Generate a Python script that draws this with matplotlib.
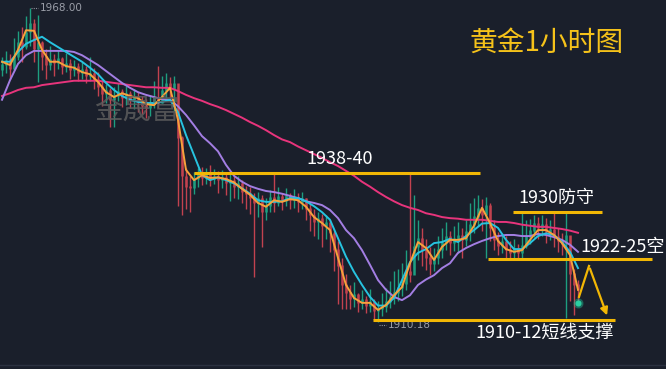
import numpy as np
import matplotlib
matplotlib.use("Agg")
import matplotlib.pyplot as plt
from matplotlib.collections import LineCollection

plt.rcParams['font.family'] = ['Noto Sans CJK SC', 'DejaVu Sans']

# ---- candle data (close / high / low), open = previous close ----
first_open = 1956.5
close = [1957.5,1958.2,1956.8,1959.0,1961.5,1960.8,1963.5,1965.0,1960.5,1961.5,
         1959.0,1957.5,1958.5,1957.8,1958.6,1957.2,1957.8,1956.5,1957.2,1956.0,
         1956.6,1955.4,1955.9,1954.8,1953.5,1952.2,1952.8,1951.0,1951.8,1952.6,
         1951.5,1952.2,1951.0,1951.6,1950.6,1950.0,1949.6,1950.4,1951.5,1950.5,
         1952.8,1954.0,1953.0,1954.0,1944.0,1937.0,1935.0,1934.8,1936.5,1937.2,
         1936.6,1937.4,1936.5,1937.0,1936.3,1936.8,1935.8,1936.2,1935.0,1935.6,
         1934.2,1933.8,1933.0,1932.0,1932.8,1930.5,1931.5,1933.0,1932.0,1933.2,
         1932.4,1933.4,1932.6,1933.0,1932.2,1932.8,1931.0,1929.8,1928.6,1929.2,
         1927.8,1928.4,1926.5,1923.5,1920.5,1917.0,1915.5,1914.5,1915.2,1913.6,
         1914.2,1913.2,1913.8,1912.2,1912.6,1913.0,1913.8,1914.6,1915.5,1916.4,
         1917.2,1919.5,1918.8,1924.0,1925.5,1923.5,1922.0,1920.8,1922.0,1923.5,
         1924.8,1925.8,1924.8,1925.5,1926.0,1925.2,1926.8,1928.0,1929.5,1931.0,
         1929.8,1931.6,1927.5,1925.2,1924.2,1925.0,1923.5,1922.8,1923.6,1922.8,
         1924.2,1925.8,1927.0,1928.2,1927.4,1928.0,1926.8,1927.2,1925.8,1925.0,
         1924.5,1926.0,1919.0,1917.0,1916.0]
high = [1959.0,1960.0,1959.5,1962.5,1963.8,1964.5,1966.5,1968.0,1966.0,1966.7,
        1962.0,1960.5,1961.0,1959.5,1960.2,1959.0,1959.8,1958.6,1958.4,1957.8,
        1958.0,1957.4,1959.0,1957.0,1956.2,1954.8,1954.0,1953.2,1953.5,1954.2,
        1953.0,1953.6,1952.8,1953.0,1952.6,1951.8,1951.2,1952.0,1954.5,1957.3,
        1955.5,1956.0,1955.2,1955.5,1953.2,1944.5,1938.5,1937.0,1937.8,1938.5,
        1938.8,1938.6,1939.0,1938.4,1938.0,1938.2,1937.6,1937.5,1937.0,1937.0,
        1936.4,1935.2,1935.0,1934.0,1934.2,1933.5,1933.0,1934.5,1937.8,1935.0,
        1934.0,1934.8,1934.0,1934.6,1934.0,1934.2,1933.0,1932.0,1931.0,1930.5,
        1930.0,1929.8,1929.0,1927.0,1925.0,1922.0,1919.0,1917.0,1917.5,1915.5,
        1916.0,1915.0,1916.2,1914.5,1914.0,1915.5,1916.5,1917.8,1919.5,1920.0,
        1921.0,1923.5,1937.8,1933.5,1929.0,1927.5,1925.5,1924.0,1923.8,1926.0,
        1927.5,1928.5,1927.0,1927.8,1928.6,1927.5,1929.0,1932.0,1933.0,1933.5,
        1932.8,1933.2,1932.0,1929.0,1926.8,1926.5,1926.0,1925.0,1925.5,1924.6,
        1930.5,1929.0,1929.2,1929.8,1929.6,1929.8,1929.4,1929.0,1930.5,1927.5,
        1926.5,1930.4,1926.0,1920.0,1918.0]
low = [1955.5,1956.0,1955.0,1956.5,1958.5,1958.0,1960.5,1961.0,1958.0,1954.4,
       1956.5,1955.0,1956.5,1955.5,1956.8,1955.8,1956.2,1955.0,1955.5,1954.6,
       1955.0,1954.2,1954.5,1953.0,1951.8,1950.0,1950.5,1946.0,1946.0,1950.8,
       1949.8,1950.2,1949.6,1949.4,1948.8,1948.5,1947.8,1948.2,1949.5,1949.5,
       1950.5,1951.5,1951.0,1949.0,1931.5,1929.8,1931.0,1930.5,1933.8,1935.0,
       1935.4,1935.5,1935.2,1935.5,1934.0,1934.8,1933.5,1932.5,1933.0,1932.8,
       1932.0,1931.0,1930.0,1918.5,1929.5,1924.0,1929.0,1930.5,1930.5,1931.5,
       1930.8,1931.5,1931.0,1931.2,1930.5,1931.0,1929.0,1927.0,1926.0,1925.5,
       1924.0,1925.5,1923.0,1919.5,1913.5,1912.5,1912.6,1912.5,1913.0,1912.0,
       1912.5,1911.8,1912.0,1910.5,1910.18,1911.2,1912.0,1912.8,1913.5,1914.0,
       1915.0,1916.0,1917.5,1920.0,1921.5,1920.5,1919.8,1918.8,1919.5,1920.8,
       1922.0,1923.5,1922.5,1923.2,1922.8,1922.0,1924.2,1925.0,1926.5,1927.8,
       1927.0,1922.0,1925.0,1923.5,1922.5,1922.8,1922.0,1921.8,1921.5,1921.8,
       1922.0,1923.8,1924.5,1925.8,1925.5,1926.0,1924.8,1925.2,1924.0,1923.0,
       1922.5,1911.0,1914.0,1911.4,1914.0]

# ---- moving averages, sampled every 2 candles ----
ma_fast = [1958.1,1957.5,1960.3,1963.9,1963.8,1960.3,1958.1,1958.1,1957.3,1957.0,
           1956.2,1955.8,1954.4,1952.5,1951.6,1952.3,1951.8,1951.4,1950.3,1950.1,
           1951.6,1953.3,1947.4,1938.2,1936.3,1937.2,1936.7,1936.8,1936.5,1935.9,
           1934.7,1933.6,1932.1,1931.4,1932.6,1932.3,1932.8,1932.6,1931.4,1929.5,
           1928.4,1927.1,1922.0,1917.0,1914.6,1913.7,1913.7,1912.4,1913.3,1915.1,
           1916.6,1921.0,1924.9,1923.8,1921.6,1924.0,1925.3,1925.3,1925.6,1927.9,
           1931.2,1928.4,1925.1,1923.6,1923.1,1923.4,1925.3,1927.1,1927.1,1926.2,
           1924.7,1922.5,1916.1]
ma_mid = [1958.1,1958.1,1959.9,1961.4,1962.1,1962.7,1961.7,1960.8,1959.9,1959.0,
          1958.1,1957.0,1955.8,1954.2,1952.9,1951.8,1951.1,1950.7,1950.5,1950.5,
          1950.7,1951.1,1948.8,1944.6,1940.9,1937.2,1936.3,1936.8,1936.3,1935.7,
          1934.8,1933.8,1932.6,1932.3,1932.3,1932.4,1933.0,1933.0,1932.4,1931.5,
          1930.4,1929.0,1925.6,1922.2,1919.4,1917.0,1914.8,1913.2,1913.2,1914.6,
          1917.9,1921.2,1922.9,1923.6,1924.7,1924.9,1925.5,1924.9,1926.0,1927.1,
          1928.3,1928.4,1927.5,1925.3,1923.6,1923.6,1924.7,1926.0,1926.5,1926.2,
          1924.9,1923.1,1920.1]
ma_slow = [1951.1,1954.7,1957.7,1959.3,1960.1,1960.1,1960.1,1960.1,1960.1,1959.9,
           1959.3,1958.4,1957.5,1956.4,1955.3,1954.2,1953.3,1952.5,1952.0,1951.6,
           1951.2,1951.1,1949.9,1948.3,1946.4,1944.4,1943.1,1941.6,1939.1,1937.1,
           1936.0,1935.2,1934.7,1934.3,1934.1,1933.8,1933.4,1933.0,1932.4,1932.1,
           1931.7,1930.8,1929.3,1927.1,1925.6,1923.4,1920.7,1917.9,1916.1,1914.8,
           1914.2,1915.1,1917.0,1918.0,1918.8,1920.1,1921.0,1922.9,1923.8,1924.5,
           1925.1,1925.6,1926.0,1926.2,1926.2,1926.0,1926.0,1926.4,1926.2,1925.8,
           1925.3,1924.4,1923.1]
ma_long = [1951.8,1952.3,1952.9,1953.3,1953.4,1953.8,1954.0,1954.2,1954.4,1954.6,
           1954.6,1954.6,1954.6,1954.4,1954.2,1954.0,1953.8,1953.6,1953.4,1953.4,
           1953.3,1953.3,1952.7,1952.0,1951.4,1950.9,1950.3,1949.8,1949.2,1948.5,
           1947.8,1947.0,1946.3,1945.5,1944.6,1943.8,1943.3,1942.5,1941.8,1941.1,
           1940.4,1939.6,1938.9,1938.0,1937.1,1936.0,1935.1,1934.1,1933.2,1932.4,
           1931.7,1931.2,1930.8,1930.2,1929.9,1929.5,1929.3,1929.2,1929.0,1929.0,
           1929.0,1928.8,1928.6,1928.6,1928.4,1928.1,1927.9,1927.7,1927.7,1927.5,
           1927.3,1927.0,1926.6]

# ---- annotation levels ----
level_labels = ["1938-40", "1930防守", "1922-25空", "1910-12短线支撑"]
level_prices = [1937.6, 1930.4, 1921.8, 1910.6]
level_spans = [(48.0, 119.5), (127.8, 150.0), (121.5, 162.5), (92.7, 153.2)]
proj_x = [144.25, 146.75, 151.5]
proj_y = [1914.8, 1920.5, 1910.9]
hi_mark, lo_mark = 1968.00, 1910.18

BG = '#1a1f2b'
UP = '#1e9e80'
DN = '#c2424f'
GOLD = '#f2b705'

fig = plt.figure(figsize=(6.66, 3.69), dpi=100, facecolor=BG)
ax = fig.add_axes([0, 0, 1, 1])
ax.set_facecolor(BG)
ax.set_xlim(-0.5, 166.0)
ax.set_ylim(1901.52, 1969.47)
ax.axis('off')

n = len(close)
idx = np.arange(n)
opens = np.concatenate([[first_open], np.array(close[:-1])])
cl = np.array(close)
colors = [UP if c >= o else DN for o, c in zip(opens, cl)]

wicks = [[(i, low[i]), (i, high[i])] for i in range(n)]
bodies = [[(i, min(opens[i], cl[i])), (i, max(opens[i], cl[i]) + 0.15)] for i in range(n)]
ax.add_collection(LineCollection(wicks, colors=colors, linewidths=1.0, zorder=2))
ax.add_collection(LineCollection(bodies, colors=colors, linewidths=1.8, zorder=2))

ma_idx = np.arange(0, n, 2)
ax.plot(ma_idx, ma_long, color='#e8347c', lw=1.4, zorder=3)
ax.plot(ma_idx, ma_slow, color='#a37ee3', lw=1.4, zorder=3)
ax.plot(ma_idx, ma_mid, color='#27c3e0', lw=1.4, zorder=4)
ax.plot(ma_idx, ma_fast, color='#f7a23c', lw=1.4, zorder=5)

# bottom separator
ax.plot([0, 1], [0.012, 0.012], transform=ax.transAxes, color='#2b3140', lw=1.0)

# level lines
for (x0, x1), p in zip(level_spans, level_prices):
    ax.plot([x0, x1], [p, p], color=GOLD, lw=2.2, zorder=6, solid_capstyle='butt')

txt = dict(color='white', fontsize=13, zorder=8)
ax.text(84.5, level_prices[0] + 1.0, level_labels[0], ha='center', va='bottom', **txt)
ax.text(129.0, level_prices[1] + 1.0, level_labels[1], ha='left', va='bottom', **txt)
ax.text(144.5, level_prices[2] + 0.6, level_labels[2], ha='left', va='bottom', **txt)
ax.text(153.0, level_prices[3] - 0.8, level_labels[3], ha='right', va='top', **txt)

# projection arrow
ax.plot(proj_x[:2], proj_y[:2], color=GOLD, lw=1.6, zorder=7)
ax.annotate('', xy=(proj_x[2], proj_y[2]), xytext=(proj_x[1], proj_y[1]),
            arrowprops=dict(arrowstyle='-|>', color=GOLD, lw=1.6, mutation_scale=11),
            zorder=7)
ax.scatter([proj_x[0] - 0.3], [proj_y[0] - 1.2], s=40, color='#1fb58f', alpha=0.35, zorder=7)
ax.scatter([proj_x[0] - 0.3], [proj_y[0] - 1.2], s=12, color='#2ad1a2', zorder=7)

# high/low markers
hi_i = int(np.argmax(high))
lo_i = int(np.argmin(low))
ax.plot([hi_i + 0.3, hi_i + 2.0], [hi_mark, hi_mark], color='#8a8f99', lw=0.8, ls=(0, (1, 1)))
ax.text(hi_i + 2.4, hi_mark, f"{hi_mark:.2f}", color='#9a9ea8', fontsize=7.5, va='center', ha='left',
        family=['Liberation Sans Narrow', 'DejaVu Sans'])
ax.plot([lo_i + 0.3, lo_i + 2.0], [lo_mark - 0.5, lo_mark - 0.5], color='#8a8f99', lw=0.8, ls=(0, (1, 1)))
ax.text(lo_i + 2.4, lo_mark - 0.5, f"{lo_mark:.2f}", color='#9a9ea8', fontsize=7.5, va='center', ha='left',
        family=['Liberation Sans Narrow', 'DejaVu Sans'])

# title and watermark
fig.text(0.705, 0.885, "黄金1小时图", color='#f5c21a', fontsize=20, ha='left', va='center', zorder=9)
fig.text(0.142, 0.70, "金晟富", color='#5c5c5c', fontsize=20.5, ha='left', va='center', alpha=0.85, zorder=9)

fig.savefig('out.png', dpi=100, facecolor=BG)
